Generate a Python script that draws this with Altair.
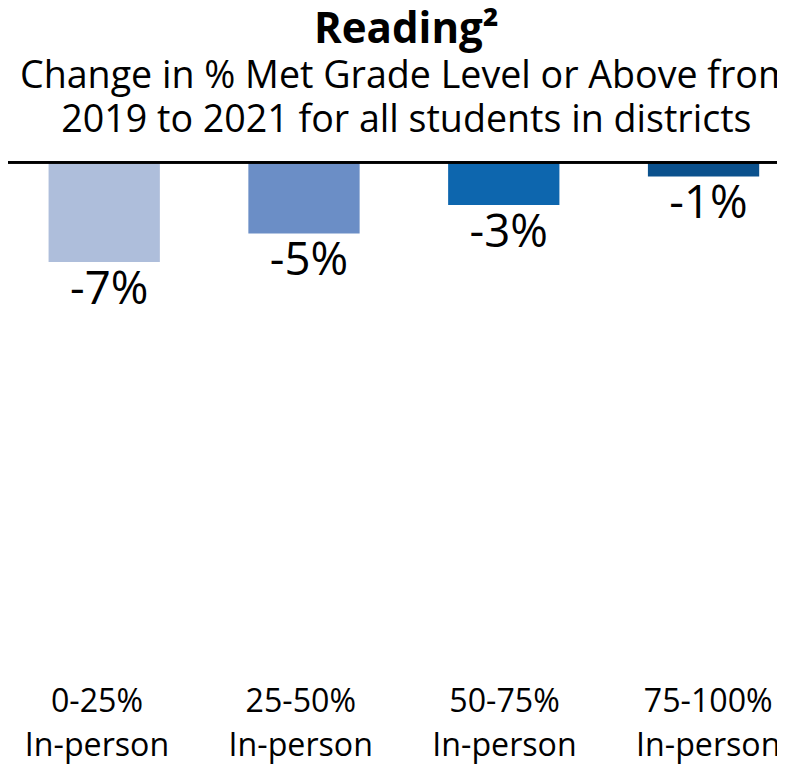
import altair as alt
import pandas as pd

categories = ["0-25%|In-person", "25-50%|In-person", "50-75%|In-person", "75-100%|In-person"]
values = [-7, -5, -3, -1]
value_labels = ["-7%", "-5%", "-3%", "-1%"]
colors = ["#aebedb", "#6b8ec6", "#0d66ae", "#0b518d"]

df = pd.DataFrame({"cat": categories, "value": values, "label": value_labels})

FONT = "Open Sans"

x_bar = alt.X(
    "cat:N",
    sort=categories,
    scale=alt.Scale(range=[41, 759], paddingInner=0.443, paddingOuter=0),
    axis=None,
)
y_enc = alt.Y("value:Q", scale=alt.Scale(domain=[-36, 0], nice=False), axis=None)

bars = alt.Chart(df).mark_bar().encode(
    x=x_bar,
    y=y_enc,
    color=alt.Color("cat:N", scale=alt.Scale(domain=categories, range=colors), legend=None),
)

texts = alt.Chart(df).mark_text(
    baseline="top", dy=6, dx=5, fontSize=46, font=FONT, color="black"
).encode(x=x_bar, y=y_enc, text="label:N")

axis_layer = alt.Chart(df).mark_point(opacity=0).encode(
    x=alt.X(
        "cat:N",
        sort=categories,
        scale=alt.Scale(range=[-13.5, 810], paddingInner=0, paddingOuter=0),
        axis=alt.Axis(
            orient="bottom",
            title=None,
            domain=False,
            ticks=False,
            labelAngle=0,
            labelExpr="split(datum.label, '|')",
            labelFont=FONT,
            labelFontSize=32.5,
            labelColor="black",
            labelPadding=11,
            labelLineHeight=44,
            labelBaseline="top",
        ),
    ),
)

rule = alt.Chart(df).mark_rule(color="black", strokeWidth=2.5).encode(
    y=alt.datum(0), x=alt.value(-3), x2=alt.value(777)
)

chart = alt.layer(alt.layer(bars, texts), axis_layer, rule).resolve_scale(
    x="independent"
).properties(
    width=777,
    height=518,
    padding={"left": 0, "top": 152, "right": 0, "bottom": 96},
    autosize=alt.AutoSizeParams(type="none"),
    title=alt.TitleParams(
        text="Reading²",
        subtitle=["Change in % Met Grade Level or Above from", "2019 to 2021 for all students in districts"],
        font=FONT,
        fontSize=42.5,
        fontWeight="bold",
        color="black",
        subtitleFont=FONT,
        subtitleFontSize=38,
        subtitleColor="black",
        subtitleLineHeight=44.5,
        subtitlePadding=7,
        anchor="middle",
        dx=14,
        offset=21,
    ),
).configure_view(stroke=None)

chart.save("out.html", embed_options={"renderer": "svg", "actions": False})
